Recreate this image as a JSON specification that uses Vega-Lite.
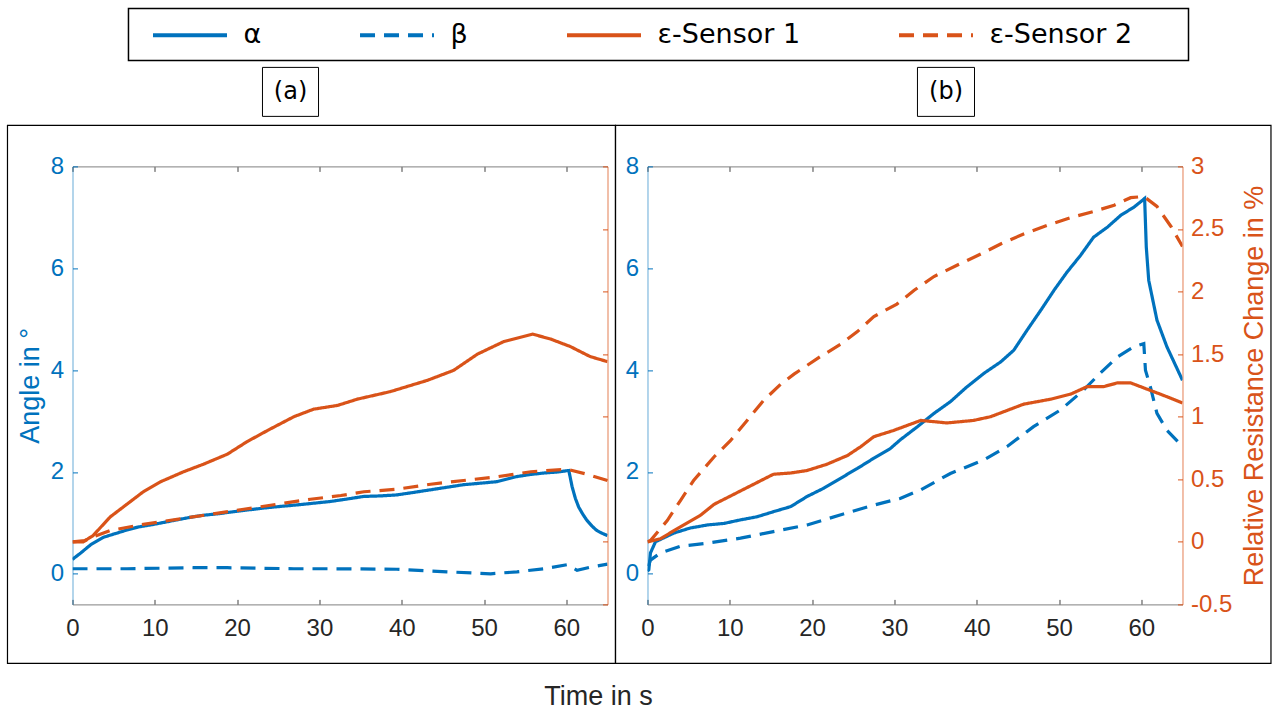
{
  "$schema": "https://vega.github.io/schema/vega-lite/v6.json",
  "padding": {"left": 6.5, "top": 7.4, "right": 0, "bottom": 0},
  "background": "white",
  "config": {"view": {"stroke": null}, "font": "Liberation Sans", "axis": {"grid": false, "labelFlush": false, "labelOverlap": false, "labelBound": false}},
  "datasets": {
    "curves": [
      {"p":"a","s":"α","t":0,"v":0.28},{"p":"a","s":"α","t":0.2,"v":0.31},{"p":"a","s":"α","t":1.0,"v":0.41},{"p":"a","s":"α","t":2.2,"v":0.57},{"p":"a","s":"α","t":3.8,"v":0.72},{"p":"a","s":"α","t":5.2,"v":0.79},{"p":"a","s":"α","t":6.6,"v":0.86},{"p":"a","s":"α","t":8.0,"v":0.92},{"p":"a","s":"α","t":9.5,"v":0.96},{"p":"a","s":"α","t":11.1,"v":1.01},{"p":"a","s":"α","t":12.7,"v":1.06},{"p":"a","s":"α","t":14.3,"v":1.11},{"p":"a","s":"α","t":15.9,"v":1.15},{"p":"a","s":"α","t":17.7,"v":1.18},{"p":"a","s":"α","t":19.6,"v":1.22},{"p":"a","s":"α","t":21.6,"v":1.26},{"p":"a","s":"α","t":23.7,"v":1.30},{"p":"a","s":"α","t":25.7,"v":1.33},{"p":"a","s":"α","t":27.7,"v":1.36},{"p":"a","s":"α","t":29.5,"v":1.39},{"p":"a","s":"α","t":31.3,"v":1.42},{"p":"a","s":"α","t":33.4,"v":1.47},{"p":"a","s":"α","t":35.4,"v":1.52},{"p":"a","s":"α","t":37.4,"v":1.53},{"p":"a","s":"α","t":39.4,"v":1.55},{"p":"a","s":"α","t":41.5,"v":1.60},{"p":"a","s":"α","t":43.5,"v":1.65},{"p":"a","s":"α","t":45.5,"v":1.70},{"p":"a","s":"α","t":47.5,"v":1.75},{"p":"a","s":"α","t":49.6,"v":1.78},{"p":"a","s":"α","t":51.6,"v":1.81},{"p":"a","s":"α","t":54.0,"v":1.91},{"p":"a","s":"α","t":55.6,"v":1.95},{"p":"a","s":"α","t":57.3,"v":1.98},{"p":"a","s":"α","t":59.0,"v":2.00},{"p":"a","s":"α","t":60.3,"v":2.03},{"p":"a","s":"α","t":60.7,"v":1.71},{"p":"a","s":"α","t":61.1,"v":1.48},{"p":"a","s":"α","t":61.5,"v":1.31},{"p":"a","s":"α","t":62.0,"v":1.17},{"p":"a","s":"α","t":62.5,"v":1.05},{"p":"a","s":"α","t":63.1,"v":0.94},{"p":"a","s":"α","t":63.7,"v":0.85},{"p":"a","s":"α","t":64.3,"v":0.80},{"p":"a","s":"α","t":65,"v":0.75},
      {"p":"a","s":"β","t":0,"v":0.10},{"p":"a","s":"β","t":6.6,"v":0.10},{"p":"a","s":"β","t":14.7,"v":0.12},{"p":"a","s":"β","t":18.8,"v":0.12},{"p":"a","s":"β","t":26.9,"v":0.10},{"p":"a","s":"β","t":31.3,"v":0.10},{"p":"a","s":"β","t":39.4,"v":0.09},{"p":"a","s":"β","t":45.5,"v":0.04},{"p":"a","s":"β","t":50.8,"v":0.0},{"p":"a","s":"β","t":54.0,"v":0.04},{"p":"a","s":"β","t":57.3,"v":0.10},{"p":"a","s":"β","t":60.1,"v":0.18},{"p":"a","s":"β","t":61.3,"v":0.07},{"p":"a","s":"β","t":62.9,"v":0.13},{"p":"a","s":"β","t":65,"v":0.19},
      {"p":"a","s":"ε-Sensor 1","t":0,"v":0},{"p":"a","s":"ε-Sensor 1","t":1.3,"v":0},{"p":"a","s":"ε-Sensor 1","t":2.5,"v":0.05},{"p":"a","s":"ε-Sensor 1","t":4.6,"v":0.20},{"p":"a","s":"ε-Sensor 1","t":6.6,"v":0.30},{"p":"a","s":"ε-Sensor 1","t":8.6,"v":0.40},{"p":"a","s":"ε-Sensor 1","t":10.7,"v":0.48},{"p":"a","s":"ε-Sensor 1","t":13.5,"v":0.56},{"p":"a","s":"ε-Sensor 1","t":15.9,"v":0.62},{"p":"a","s":"ε-Sensor 1","t":18.8,"v":0.70},{"p":"a","s":"ε-Sensor 1","t":21.2,"v":0.80},{"p":"a","s":"ε-Sensor 1","t":23.7,"v":0.89},{"p":"a","s":"ε-Sensor 1","t":26.9,"v":1.0},{"p":"a","s":"ε-Sensor 1","t":29.3,"v":1.06},{"p":"a","s":"ε-Sensor 1","t":32.2,"v":1.09},{"p":"a","s":"ε-Sensor 1","t":34.6,"v":1.14},{"p":"a","s":"ε-Sensor 1","t":38.6,"v":1.20},{"p":"a","s":"ε-Sensor 1","t":43.1,"v":1.29},{"p":"a","s":"ε-Sensor 1","t":46.3,"v":1.37},{"p":"a","s":"ε-Sensor 1","t":49.2,"v":1.50},{"p":"a","s":"ε-Sensor 1","t":52.4,"v":1.60},{"p":"a","s":"ε-Sensor 1","t":55.9,"v":1.66},{"p":"a","s":"ε-Sensor 1","t":58.1,"v":1.62},{"p":"a","s":"ε-Sensor 1","t":60.5,"v":1.56},{"p":"a","s":"ε-Sensor 1","t":62.9,"v":1.48},{"p":"a","s":"ε-Sensor 1","t":65,"v":1.44},
      {"p":"a","s":"ε-Sensor 2","t":0,"v":0},{"p":"a","s":"ε-Sensor 2","t":1.5,"v":0.01},{"p":"a","s":"ε-Sensor 2","t":2.5,"v":0.04},{"p":"a","s":"ε-Sensor 2","t":4.6,"v":0.09},{"p":"a","s":"ε-Sensor 2","t":8.6,"v":0.14},{"p":"a","s":"ε-Sensor 2","t":12.7,"v":0.18},{"p":"a","s":"ε-Sensor 2","t":16.8,"v":0.22},{"p":"a","s":"ε-Sensor 2","t":20.8,"v":0.26},{"p":"a","s":"ε-Sensor 2","t":24.8,"v":0.30},{"p":"a","s":"ε-Sensor 2","t":28.9,"v":0.34},{"p":"a","s":"ε-Sensor 2","t":32.6,"v":0.37},{"p":"a","s":"ε-Sensor 2","t":35.4,"v":0.40},{"p":"a","s":"ε-Sensor 2","t":39.4,"v":0.42},{"p":"a","s":"ε-Sensor 2","t":43.5,"v":0.46},{"p":"a","s":"ε-Sensor 2","t":47.5,"v":0.49},{"p":"a","s":"ε-Sensor 2","t":51.6,"v":0.52},{"p":"a","s":"ε-Sensor 2","t":55.7,"v":0.56},{"p":"a","s":"ε-Sensor 2","t":60.1,"v":0.58},{"p":"a","s":"ε-Sensor 2","t":62.5,"v":0.54},{"p":"a","s":"ε-Sensor 2","t":65,"v":0.49},
      {"p":"b","s":"α","t":0,"v":0.05},{"p":"b","s":"α","t":0.16,"v":0.08},{"p":"b","s":"α","t":0.36,"v":0.41},{"p":"b","s":"α","t":0.97,"v":0.63},{"p":"b","s":"α","t":3.2,"v":0.80},{"p":"b","s":"α","t":5.2,"v":0.90},{"p":"b","s":"α","t":7.3,"v":0.96},{"p":"b","s":"α","t":9.3,"v":0.99},{"p":"b","s":"α","t":11.3,"v":1.06},{"p":"b","s":"α","t":13.3,"v":1.12},{"p":"b","s":"α","t":15.3,"v":1.22},{"p":"b","s":"α","t":17.4,"v":1.32},{"p":"b","s":"α","t":19.4,"v":1.52},{"p":"b","s":"α","t":21.4,"v":1.68},{"p":"b","s":"α","t":23.5,"v":1.88},{"p":"b","s":"α","t":25.5,"v":2.07},{"p":"b","s":"α","t":27.5,"v":2.27},{"p":"b","s":"α","t":29.5,"v":2.46},{"p":"b","s":"α","t":30.7,"v":2.63},{"p":"b","s":"α","t":32.8,"v":2.89},{"p":"b","s":"α","t":34.8,"v":3.15},{"p":"b","s":"α","t":36.8,"v":3.38},{"p":"b","s":"α","t":38.8,"v":3.67},{"p":"b","s":"α","t":40.9,"v":3.94},{"p":"b","s":"α","t":42.9,"v":4.16},{"p":"b","s":"α","t":44.5,"v":4.39},{"p":"b","s":"α","t":46.1,"v":4.78},{"p":"b","s":"α","t":47.8,"v":5.18},{"p":"b","s":"α","t":49.4,"v":5.57},{"p":"b","s":"α","t":51.0,"v":5.93},{"p":"b","s":"α","t":52.6,"v":6.25},{"p":"b","s":"α","t":54.2,"v":6.61},{"p":"b","s":"α","t":55.9,"v":6.81},{"p":"b","s":"α","t":57.5,"v":7.04},{"p":"b","s":"α","t":59.1,"v":7.20},{"p":"b","s":"α","t":60.4,"v":7.37},{"p":"b","s":"α","t":60.6,"v":6.42},{"p":"b","s":"α","t":60.9,"v":5.76},{"p":"b","s":"α","t":61.9,"v":4.98},{"p":"b","s":"α","t":63.1,"v":4.46},{"p":"b","s":"α","t":65,"v":3.80},
      {"p":"b","s":"β","t":0.1,"v":0.15},{"p":"b","s":"β","t":0.36,"v":0.27},{"p":"b","s":"β","t":1.58,"v":0.41},{"p":"b","s":"β","t":4.0,"v":0.54},{"p":"b","s":"β","t":7.2,"v":0.60},{"p":"b","s":"β","t":11.3,"v":0.70},{"p":"b","s":"β","t":15.3,"v":0.83},{"p":"b","s":"β","t":19.4,"v":0.96},{"p":"b","s":"β","t":23.5,"v":1.16},{"p":"b","s":"β","t":27.5,"v":1.35},{"p":"b","s":"β","t":30.7,"v":1.48},{"p":"b","s":"β","t":33.2,"v":1.65},{"p":"b","s":"β","t":36.8,"v":1.97},{"p":"b","s":"β","t":40.9,"v":2.24},{"p":"b","s":"β","t":43.7,"v":2.50},{"p":"b","s":"β","t":46.9,"v":2.89},{"p":"b","s":"β","t":50.2,"v":3.22},{"p":"b","s":"β","t":53.0,"v":3.61},{"p":"b","s":"β","t":55.0,"v":3.94},{"p":"b","s":"β","t":57.1,"v":4.26},{"p":"b","s":"β","t":59.1,"v":4.46},{"p":"b","s":"β","t":60.3,"v":4.52},{"p":"b","s":"β","t":60.5,"v":4.00},{"p":"b","s":"β","t":61.1,"v":3.67},{"p":"b","s":"β","t":61.9,"v":3.15},{"p":"b","s":"β","t":63.1,"v":2.82},{"p":"b","s":"β","t":65,"v":2.50},
      {"p":"b","s":"ε-Sensor 1","t":0,"v":0},{"p":"b","s":"ε-Sensor 1","t":1.58,"v":0.025},{"p":"b","s":"ε-Sensor 1","t":4.0,"v":0.12},{"p":"b","s":"ε-Sensor 1","t":6.4,"v":0.21},{"p":"b","s":"ε-Sensor 1","t":8.1,"v":0.30},{"p":"b","s":"ε-Sensor 1","t":10.5,"v":0.38},{"p":"b","s":"ε-Sensor 1","t":12.9,"v":0.46},{"p":"b","s":"ε-Sensor 1","t":15.3,"v":0.54},{"p":"b","s":"ε-Sensor 1","t":17.4,"v":0.55},{"p":"b","s":"ε-Sensor 1","t":19.4,"v":0.57},{"p":"b","s":"ε-Sensor 1","t":21.8,"v":0.62},{"p":"b","s":"ε-Sensor 1","t":24.3,"v":0.69},{"p":"b","s":"ε-Sensor 1","t":25.9,"v":0.76},{"p":"b","s":"ε-Sensor 1","t":27.5,"v":0.84},{"p":"b","s":"ε-Sensor 1","t":29.9,"v":0.89},{"p":"b","s":"ε-Sensor 1","t":33.2,"v":0.97},{"p":"b","s":"ε-Sensor 1","t":36.4,"v":0.95},{"p":"b","s":"ε-Sensor 1","t":39.6,"v":0.97},{"p":"b","s":"ε-Sensor 1","t":41.7,"v":1.0},{"p":"b","s":"ε-Sensor 1","t":43.7,"v":1.05},{"p":"b","s":"ε-Sensor 1","t":45.7,"v":1.10},{"p":"b","s":"ε-Sensor 1","t":49.0,"v":1.14},{"p":"b","s":"ε-Sensor 1","t":51.4,"v":1.18},{"p":"b","s":"ε-Sensor 1","t":53.4,"v":1.24},{"p":"b","s":"ε-Sensor 1","t":55.4,"v":1.24},{"p":"b","s":"ε-Sensor 1","t":57.1,"v":1.27},{"p":"b","s":"ε-Sensor 1","t":58.7,"v":1.27},{"p":"b","s":"ε-Sensor 1","t":60.7,"v":1.22},{"p":"b","s":"ε-Sensor 1","t":62.7,"v":1.17},{"p":"b","s":"ε-Sensor 1","t":65,"v":1.11},
      {"p":"b","s":"ε-Sensor 2","t":0,"v":0},{"p":"b","s":"ε-Sensor 2","t":0.36,"v":0.01},{"p":"b","s":"ε-Sensor 2","t":2.4,"v":0.17},{"p":"b","s":"ε-Sensor 2","t":4.0,"v":0.33},{"p":"b","s":"ε-Sensor 2","t":5.6,"v":0.49},{"p":"b","s":"ε-Sensor 2","t":8.1,"v":0.68},{"p":"b","s":"ε-Sensor 2","t":10.1,"v":0.81},{"p":"b","s":"ε-Sensor 2","t":12.1,"v":0.97},{"p":"b","s":"ε-Sensor 2","t":14.1,"v":1.13},{"p":"b","s":"ε-Sensor 2","t":16.2,"v":1.26},{"p":"b","s":"ε-Sensor 2","t":17.8,"v":1.34},{"p":"b","s":"ε-Sensor 2","t":21.0,"v":1.48},{"p":"b","s":"ε-Sensor 2","t":23.5,"v":1.58},{"p":"b","s":"ε-Sensor 2","t":25.5,"v":1.68},{"p":"b","s":"ε-Sensor 2","t":27.5,"v":1.80},{"p":"b","s":"ε-Sensor 2","t":30.3,"v":1.90},{"p":"b","s":"ε-Sensor 2","t":32.4,"v":2.01},{"p":"b","s":"ε-Sensor 2","t":34.8,"v":2.12},{"p":"b","s":"ε-Sensor 2","t":37.6,"v":2.21},{"p":"b","s":"ε-Sensor 2","t":40.5,"v":2.30},{"p":"b","s":"ε-Sensor 2","t":42.9,"v":2.38},{"p":"b","s":"ε-Sensor 2","t":45.7,"v":2.46},{"p":"b","s":"ε-Sensor 2","t":48.6,"v":2.53},{"p":"b","s":"ε-Sensor 2","t":51.4,"v":2.59},{"p":"b","s":"ε-Sensor 2","t":54.2,"v":2.64},{"p":"b","s":"ε-Sensor 2","t":56.7,"v":2.69},{"p":"b","s":"ε-Sensor 2","t":58.7,"v":2.75},{"p":"b","s":"ε-Sensor 2","t":60.3,"v":2.76},{"p":"b","s":"ε-Sensor 2","t":61.9,"v":2.68},{"p":"b","s":"ε-Sensor 2","t":63.6,"v":2.52},{"p":"b","s":"ε-Sensor 2","t":65,"v":2.36}
    ]
  },
  "spacing": 40,
  "bounds": "flush",
  "hconcat": [
    {
      "width": 535, "height": 438,
      "data": {"name": "curves"},
      "layer": [
        {
          "transform": [{"filter": "datum.p == 'a' && (datum.s == 'α' || datum.s == 'β')"}],
          "mark": {"type": "line", "strokeWidth": 3.2, "clip": true},
          "encoding": {
            "x": {"field": "t", "type": "quantitative", "scale": {"domain": [0, 65], "nice": false, "zero": false},
              "axis": {"orient": "bottom", "values": [0,10,20,30,40,50,60], "title": null, "tickSize": -5, "domainColor": "#808080", "tickColor": "#404040", "labelFontSize": 24, "labelColor": "#262626", "labelPadding": 17}},
            "y": {"field": "v", "type": "quantitative", "scale": {"domain": [-0.6, 8], "nice": false, "zero": false},
              "axis": {"orient": "left", "values": [0,2,4,6,8], "title": "Angle in °", "titleColor": "#0072BD", "titleFontSize": 27, "titleFontWeight": "normal", "titlePadding": 6, "tickSize": -5, "domainColor": "#0072BD", "domainOpacity": 0.6, "tickColor": "#0072BD", "labelColor": "#0072BD", "labelFontSize": 24, "labelPadding": 14}},
            "color": {"field": "s", "type": "nominal", "scale": {"domain": ["α","β","ε-Sensor 1","ε-Sensor 2"], "range": ["#0072BD","#0072BD","#D95319","#D95319"]},
              "legend": {"title": null, "orient": "none", "legendX": 103, "legendY": -146, "direction": "horizontal", "columns": 4, "symbolType": "M-3,0H3", "symbolSize": 608, "symbolStrokeWidth": 4, "labelFont": "DejaVu Sans", "labelFontSize": 27, "labelColor": "#000000", "labelOffset": 39, "columnPadding": 90, "padding": 0}},
            "strokeDash": {"field": "s", "type": "nominal", "scale": {"domain": ["α","β","ε-Sensor 1","ε-Sensor 2"], "range": [[1,0],[15,9],[1,0],[15,9]]},
              "legend": {"title": null, "orient": "none", "legendX": 103, "legendY": -146, "direction": "horizontal", "columns": 4, "symbolType": "M-3,0H3", "symbolSize": 608, "symbolStrokeWidth": 4, "labelFont": "DejaVu Sans", "labelFontSize": 27, "labelColor": "#000000", "labelOffset": 39, "columnPadding": 90, "padding": 0}}
          }
        },
        {
          "transform": [{"filter": "datum.p == 'a' && datum.s != 'α' && datum.s != 'β'"}],
          "mark": {"type": "line", "strokeWidth": 3.2, "clip": true},
          "encoding": {
            "x": {"field": "t", "type": "quantitative", "scale": {"domain": [0, 65], "nice": false, "zero": false},
              "axis": {"orient": "top", "values": [0,10,20,30,40,50,60], "labels": false, "title": null, "tickSize": -5, "domainColor": "#808080", "tickColor": "#404040"}},
            "y": {"field": "v", "type": "quantitative", "scale": {"domain": [-0.5, 3], "nice": false, "zero": false},
              "axis": {"orient": "right", "values": [-0.5,0,0.5,1,1.5,2,2.5,3], "labels": false, "title": null, "tickSize": -5, "domainColor": "#D95319", "domainOpacity": 0.75, "tickColor": "#D95319"}},
            "color": {"field": "s", "type": "nominal", "scale": {"domain": ["α","β","ε-Sensor 1","ε-Sensor 2"], "range": ["#0072BD","#0072BD","#D95319","#D95319"]},
              "legend": {"title": null, "orient": "none", "legendX": 103, "legendY": -146, "direction": "horizontal", "columns": 4, "symbolType": "M-3,0H3", "symbolSize": 608, "symbolStrokeWidth": 4, "labelFont": "DejaVu Sans", "labelFontSize": 27, "labelColor": "#000000", "labelOffset": 39, "columnPadding": 90, "padding": 0}},
            "strokeDash": {"field": "s", "type": "nominal", "scale": {"domain": ["α","β","ε-Sensor 1","ε-Sensor 2"], "range": [[1,0],[15,9],[1,0],[15,9]]},
              "legend": {"title": null, "orient": "none", "legendX": 103, "legendY": -146, "direction": "horizontal", "columns": 4, "symbolType": "M-3,0H3", "symbolSize": 608, "symbolStrokeWidth": 4, "labelFont": "DejaVu Sans", "labelFontSize": 27, "labelColor": "#000000", "labelOffset": 39, "columnPadding": 90, "padding": 0}}
          }
        },
        {
          "data": {"values": [{}]},
          "mark": {"type": "rect", "fill": "transparent", "stroke": "#000000", "strokeWidth": 1.2},
          "encoding": {
            "x": {"datum": -7.9, "type": "quantitative", "scale": {"domain": [0, 65], "nice": false, "zero": false}, "axis": null},
            "x2": {"datum": 65.97},
            "y": {"datum": 8.805, "type": "quantitative", "scale": {"domain": [-0.6, 8], "nice": false, "zero": false}, "axis": null},
            "y2": {"datum": -1.758}
          }
        },
        {
          "data": {"values": [{}]},
          "mark": {"type": "rect", "fill": "transparent", "stroke": "#000000", "strokeWidth": 1.5},
          "encoding": {
            "x": {"datum": 6.80, "type": "quantitative", "scale": {"domain": [0, 65], "nice": false, "zero": false}, "axis": null},
            "x2": {"datum": 135.59},
            "y": {"datum": 11.102, "type": "quantitative", "scale": {"domain": [-0.6, 8], "nice": false, "zero": false}, "axis": null},
            "y2": {"datum": 10.081}
          }
        },
        {
          "data": {"values": [{}]},
          "mark": {"type": "rect", "fill": "transparent", "stroke": "#000000", "strokeWidth": 1},
          "encoding": {
            "x": {"datum": 23.08, "type": "quantitative", "scale": {"domain": [0, 65], "nice": false, "zero": false}, "axis": null},
            "x2": {"datum": 29.89},
            "y": {"datum": 9.944, "type": "quantitative", "scale": {"domain": [-0.6, 8], "nice": false, "zero": false}, "axis": null},
            "y2": {"datum": 8.982}
          }
        },
        {
          "data": {"values": [{}]},
          "mark": {"type": "text", "font": "DejaVu Sans", "fontSize": 24, "align": "center", "baseline": "middle", "color": "#000000"},
          "encoding": {
            "x": {"datum": 26.49, "type": "quantitative", "scale": {"domain": [0, 65], "nice": false, "zero": false}, "axis": null},
            "y": {"datum": 9.453, "type": "quantitative", "scale": {"domain": [-0.6, 8], "nice": false, "zero": false}, "axis": null},
            "text": {"value": "(a)"}
          }
        },
        {
          "data": {"values": [{}]},
          "mark": {"type": "text", "font": "Liberation Sans", "fontSize": 27, "align": "center", "baseline": "middle", "color": "#262626"},
          "encoding": {
            "x": {"datum": 63.91, "type": "quantitative", "scale": {"domain": [0, 65], "nice": false, "zero": false}, "axis": null},
            "y": {"datum": -2.426, "type": "quantitative", "scale": {"domain": [-0.6, 8], "nice": false, "zero": false}, "axis": null},
            "text": {"value": "Time in s"}
          }
        }
      ],
      "resolve": {"scale": {"y": "independent"}}
    },
    {
      "width": 535, "height": 438,
      "data": {"name": "curves"},
      "layer": [
        {
          "transform": [{"filter": "datum.p == 'b' && (datum.s == 'α' || datum.s == 'β')"}],
          "mark": {"type": "line", "strokeWidth": 3.2, "clip": true},
          "encoding": {
            "x": {"field": "t", "type": "quantitative", "scale": {"domain": [0, 65], "nice": false, "zero": false},
              "axis": {"orient": "bottom", "values": [0,10,20,30,40,50,60], "title": null, "tickSize": -5, "domainColor": "#808080", "tickColor": "#404040", "labelFontSize": 24, "labelColor": "#262626", "labelPadding": 17}},
            "y": {"field": "v", "type": "quantitative", "scale": {"domain": [-0.6, 8], "nice": false, "zero": false},
              "axis": {"orient": "left", "values": [0,2,4,6,8], "title": null, "tickSize": -5, "domainColor": "#0072BD", "domainOpacity": 0.6, "tickColor": "#0072BD", "labelColor": "#0072BD", "labelFontSize": 24, "labelPadding": 14}},
            "color": {"field": "s", "type": "nominal", "scale": {"domain": ["α","β","ε-Sensor 1","ε-Sensor 2"], "range": ["#0072BD","#0072BD","#D95319","#D95319"]},
              "legend": {"title": null, "orient": "none", "legendX": 103, "legendY": -146, "direction": "horizontal", "columns": 4, "symbolType": "M-3,0H3", "symbolSize": 608, "symbolStrokeWidth": 4, "labelFont": "DejaVu Sans", "labelFontSize": 27, "labelColor": "#000000", "labelOffset": 39, "columnPadding": 90, "padding": 0}},
            "strokeDash": {"field": "s", "type": "nominal", "scale": {"domain": ["α","β","ε-Sensor 1","ε-Sensor 2"], "range": [[1,0],[15,9],[1,0],[15,9]]},
              "legend": {"title": null, "orient": "none", "legendX": 103, "legendY": -146, "direction": "horizontal", "columns": 4, "symbolType": "M-3,0H3", "symbolSize": 608, "symbolStrokeWidth": 4, "labelFont": "DejaVu Sans", "labelFontSize": 27, "labelColor": "#000000", "labelOffset": 39, "columnPadding": 90, "padding": 0}}
          }
        },
        {
          "transform": [{"filter": "datum.p == 'b' && datum.s != 'α' && datum.s != 'β'"}],
          "mark": {"type": "line", "strokeWidth": 3.2, "clip": true},
          "encoding": {
            "x": {"field": "t", "type": "quantitative", "scale": {"domain": [0, 65], "nice": false, "zero": false},
              "axis": {"orient": "top", "values": [0,10,20,30,40,50,60], "labels": false, "title": null, "tickSize": -5, "domainColor": "#808080", "tickColor": "#404040"}},
            "y": {"field": "v", "type": "quantitative", "scale": {"domain": [-0.5, 3], "nice": false, "zero": false},
              "axis": {"orient": "right", "values": [-0.5,0,0.5,1,1.5,2,2.5,3], "labelExpr": "datum.value + ''", "title": "Relative Resistance Change in %", "titleAngle": 270, "titleBaseline": "top", "titleColor": "#D95319", "titleFontSize": 27, "titleFontWeight": "normal", "titlePadding": 10, "tickSize": -5, "domainColor": "#D95319", "domainOpacity": 0.75, "tickColor": "#D95319", "labelColor": "#D95319", "labelFontSize": 24, "labelPadding": 13}},
            "color": {"field": "s", "type": "nominal", "scale": {"domain": ["α","β","ε-Sensor 1","ε-Sensor 2"], "range": ["#0072BD","#0072BD","#D95319","#D95319"]},
              "legend": {"title": null, "orient": "none", "legendX": 103, "legendY": -146, "direction": "horizontal", "columns": 4, "symbolType": "M-3,0H3", "symbolSize": 608, "symbolStrokeWidth": 4, "labelFont": "DejaVu Sans", "labelFontSize": 27, "labelColor": "#000000", "labelOffset": 39, "columnPadding": 90, "padding": 0}},
            "strokeDash": {"field": "s", "type": "nominal", "scale": {"domain": ["α","β","ε-Sensor 1","ε-Sensor 2"], "range": [[1,0],[15,9],[1,0],[15,9]]},
              "legend": {"title": null, "orient": "none", "legendX": 103, "legendY": -146, "direction": "horizontal", "columns": 4, "symbolType": "M-3,0H3", "symbolSize": 608, "symbolStrokeWidth": 4, "labelFont": "DejaVu Sans", "labelFontSize": 27, "labelColor": "#000000", "labelOffset": 39, "columnPadding": 90, "padding": 0}}
          }
        },
        {
          "data": {"values": [{}]},
          "mark": {"type": "rect", "fill": "transparent", "stroke": "#000000", "strokeWidth": 1.2},
          "encoding": {
            "x": {"datum": -3.89, "type": "quantitative", "scale": {"domain": [0, 65], "nice": false, "zero": false}, "axis": null},
            "x2": {"datum": 75.75},
            "y": {"datum": 8.805, "type": "quantitative", "scale": {"domain": [-0.6, 8], "nice": false, "zero": false}, "axis": null},
            "y2": {"datum": -1.758}
          }
        },
        {
          "data": {"values": [{}]},
          "mark": {"type": "rect", "fill": "transparent", "stroke": "#000000", "strokeWidth": 1},
          "encoding": {
            "x": {"datum": 32.80, "type": "quantitative", "scale": {"domain": [0, 65], "nice": false, "zero": false}, "axis": null},
            "x2": {"datum": 39.73},
            "y": {"datum": 9.944, "type": "quantitative", "scale": {"domain": [-0.6, 8], "nice": false, "zero": false}, "axis": null},
            "y2": {"datum": 8.982}
          }
        },
        {
          "data": {"values": [{}]},
          "mark": {"type": "text", "font": "DejaVu Sans", "fontSize": 24, "align": "center", "baseline": "middle", "color": "#000000"},
          "encoding": {
            "x": {"datum": 36.27, "type": "quantitative", "scale": {"domain": [0, 65], "nice": false, "zero": false}, "axis": null},
            "y": {"datum": 9.453, "type": "quantitative", "scale": {"domain": [-0.6, 8], "nice": false, "zero": false}, "axis": null},
            "text": {"value": "(b)"}
          }
        }
      ],
      "resolve": {"scale": {"y": "independent"}}
    }
  ]
}
